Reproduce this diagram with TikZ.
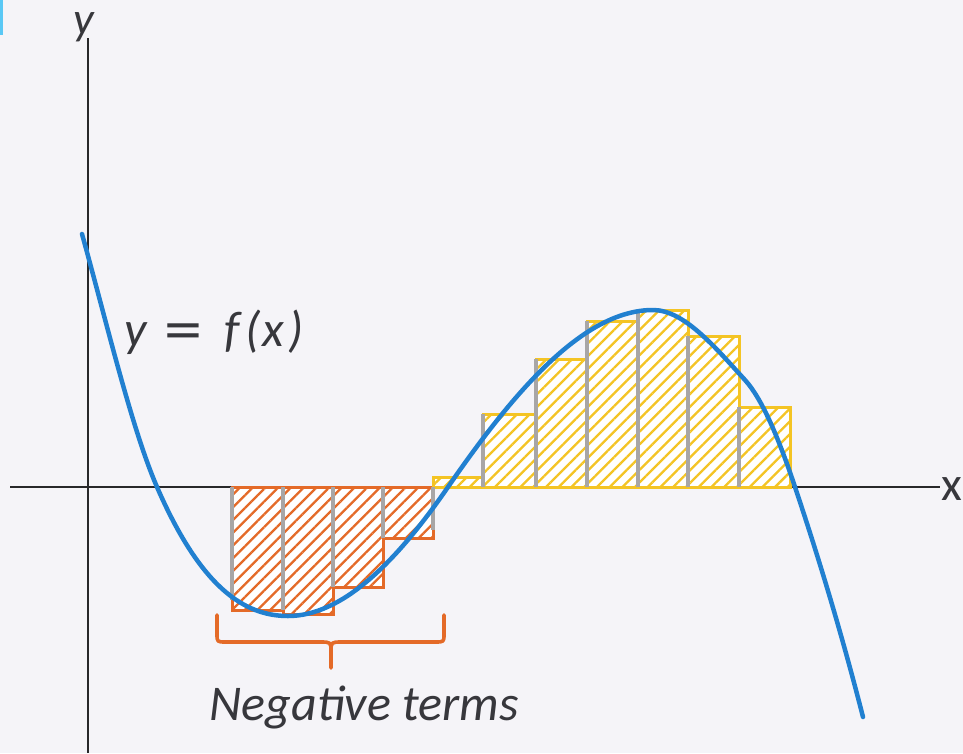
\documentclass[tikz,border=0pt]{standalone}
\usepackage{fontspec}
\setmainfont{Carlito}
\newfontfamily\dejavu{DejaVu Sans}
\usetikzlibrary{patterns.meta}
\definecolor{bg}{RGB}{245,244,248}
\definecolor{axiscol}{RGB}{40,40,42}
\definecolor{curveblue}{RGB}{33,128,208}
\definecolor{negor}{RGB}{228,106,40}
\definecolor{posyel}{RGB}{244,196,36}
\definecolor{sepgray}{RGB}{168,166,166}
\definecolor{txt}{RGB}{55,55,60}
\definecolor{tabblue}{RGB}{90,200,245}
\begin{document}
\begin{tikzpicture}[x=1pt,y=-1pt,
  axisline/.style={axiscol, line width=2.2pt},
  hatchneg/.style={pattern={Lines[angle=45,distance=9pt,line width=2.3pt]}, pattern color=negor},
  hatchpos/.style={pattern={Lines[angle=45,distance=9pt,line width=2.3pt]}, pattern color=posyel},
  outneg/.style={draw=negor, line width=3pt},
  outpos/.style={draw=posyel, line width=3pt},
  sep/.style={sepgray, line width=3.2pt},
  fcurve/.style={curveblue, line width=4.5pt, line cap=round},
  lbl/.style={text=txt, font=\itshape\fontsize{50}{54}\selectfont, inner sep=0pt},
  bracestyle/.style={negor, line width=3.6pt, line cap=round, line join=round}]
% background and bounding box
\fill[bg] (0,0) rectangle (963,753);
\useasboundingbox (0,0) rectangle (963,753);
\fill[tabblue] (0,0) rectangle (3,35);

% axes
\coordinate (xstart) at (10,487);
\coordinate (xend) at (940,487);
\coordinate (ystart) at (88,753);
\coordinate (yend) at (88,38);
\draw[axisline] (xstart) -- (xend);
\draw[axisline] (ystart) -- (yend);
\node[lbl, anchor=base, font=\itshape\fontsize{46}{50}\selectfont, text height=0.5em, text depth=0.2em] (ylabel) at (84,34) {y};
\node[lbl, anchor=base west, font=\fontsize{48}{50}\selectfont, text height=0.5em] (xlabel) at (941,500) {x};

% negative rectangles
\foreach \a/\b/\t in {232/283/610, 283/333/614, 333/383/587, 383/433/538}{
  \fill[white] (\a,487) rectangle (\b,\t);
  \fill[hatchneg] (\a,487) rectangle (\b,\t);
  \draw[outneg] (\a,487) rectangle (\b,\t);
}
% positive rectangles
\foreach \a/\b/\t in {433/483/477, 483/536/414, 536/587/359, 587/638/321, 638/688/310, 688/739/336, 739/790/407}{
  \fill[white] (\a,487) rectangle (\b,\t);
  \fill[hatchpos] (\a,487) rectangle (\b,\t);
  \draw[outpos] (\a,487) rectangle (\b,\t);
}
% grey separators
\foreach \a/\t in {232/600, 283/610, 333/587, 383/538, 433/530, 483/414, 536/359, 587/321, 638/310, 688/336, 739/407}{
  \draw[sep] (\a,487) -- (\a,\t);
}

% the curve y = f(x)
\coordinate (c0) at (82,234);
\coordinate (c1) at (157,487);
\coordinate (c2) at (288,616);
\coordinate (c3) at (448,487);
\coordinate (c4) at (653,310);
\coordinate (c5) at (745,380);
\coordinate (c6) at (795,487);
\coordinate (c7) at (863,717);
\draw[fcurve] (c0) .. controls (107,324) and (132,429.5) .. (c1)
  .. controls (200.7,587.5) and (244.3,616) .. (c2)
  .. controls (341.3,616) and (394.7,564.3) .. (c3)
  .. controls (516.3,388) and (584.7,310) .. (c4)
  .. controls (683.7,310) and (714.3,346.3) .. (c5)
  .. controls (761.7,398.3) and (778.3,437) .. (c6)
  .. controls (817.7,555) and (840.3,628.5) .. (c7);

\node[lbl, anchor=base west] (flabel) at (124,346) {y\hspace{16pt}{\dejavu\upshape =}\hspace{20pt}f\hspace{6pt}(\hspace{2pt}x\hspace{4pt})};

% brace
\coordinate (bl) at (217,615);
\coordinate (br) at (444,615);
\coordinate (bm) at (331,668);
\draw[bracestyle] (bl) -- (217,634) .. controls (217,642) .. (226,642) -- (320,642) .. controls (331,642) .. (331,652) -- (bm);
\draw[bracestyle] (br) -- (444,634) .. controls (444,642) .. (435,642) -- (342,642) .. controls (331,642) .. (331,652);
\node[lbl, anchor=base] (negtext) at (364,720) {Negative terms};
\end{tikzpicture}
\end{document}
